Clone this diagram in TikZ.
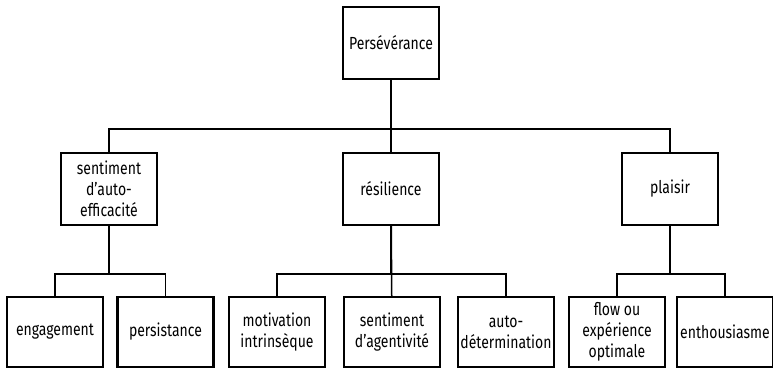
\documentclass[tikz,border=0pt]{standalone}
\usepackage{fontspec}
\setmainfont[FakeStretch=0.8]{Fira Sans}
\usepackage{tikz}
\usetikzlibrary{positioning}

\begin{document}
\begin{tikzpicture} [x=1pt, y=-1pt,
  box/.style={draw, line width=2.4pt, minimum width=96pt, minimum height=72pt,
    align=center, inner sep=1pt, font=\fontsize{17.5}{21}\selectfont},
  lowbox/.style={box, minimum height=70pt},
  link/.style={line width=1.5pt}]
\useasboundingbox (0,0) rectangle (773,368);

% top
\draw (391,43)   node (11) [box] {Persévérance};

% second row
\draw (109,189)  node (21) [box] {sentiment\\d'auto-\\efficacité};
\draw (391,189)  node (22) [box] {résilience};
\draw (670,189)  node (23) [box] {plaisir};
\draw [link] (11.south) -- ++(0,49) -| (21.north);
\draw [link] (11.south) -- ++(0,49) -| (23.north);
\draw [link] (11) -- (22);

% third row
\draw (55,332)   node (31) [lowbox] {engagement};
\draw (165.5,332) node (32) [lowbox] {persistance};
\draw [link] (21.south) -- ++(0,48) -| (31.north);
\draw [link] (21.south) -- ++(0,48) -| (32.north);

\draw (277,332)  node (33) [lowbox] {motivation\\intrinsèque};
\draw (392,332)  node (34) [lowbox] {sentiment\\d'agentivité};
\draw (506,332)  node (35) [lowbox] {auto-\\détermination};
\draw [link] (22.south) -- ++(0,48) -| (33.north);
\draw [link] (22.south) -- ++(0,48) -| (35.north);
\draw [link] (22) -- (34);

\draw (617,332)  node (36) [lowbox] {flow ou\\expérience\\optimale};
\draw (725,332)  node (37) [lowbox] {enthousiasme};
\draw [link] (23.south) -- ++(0,48) -| (36.north);
\draw [link] (23.south) -- ++(0,48) -| (37.north);
\end{tikzpicture}
\end{document}
